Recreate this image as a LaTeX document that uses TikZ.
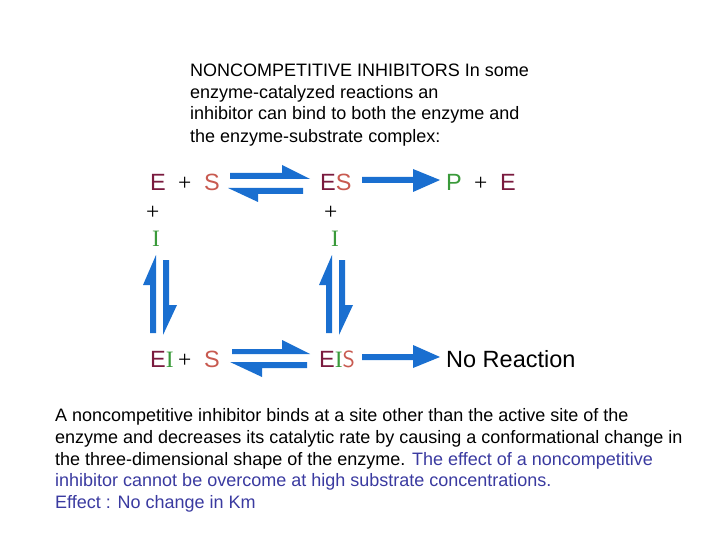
\documentclass[tikz,border=0pt]{standalone}
\usepackage{fontspec}
\setmainfont{Liberation Sans}
\newfontfamily\serf{Liberation Serif}
\definecolor{arr}{HTML}{1A6FD0}
\definecolor{cE}{HTML}{7A1A3E}
\definecolor{cS}{HTML}{C85A50}
\definecolor{cI}{HTML}{3A9A3A}
\definecolor{blu}{HTML}{3A3AA0}
\begin{document}
\begin{tikzpicture}[x=1pt,y=-1pt,
  sp/.style={anchor=base west,inner sep=0pt,font=\fontsize{23.5}{26}\selectfont},
  tx/.style={anchor=base west,inner sep=0pt,font=\fontsize{18}{20}\selectfont},
  bt/.style={anchor=base west,inner sep=0pt,font=\fontsize{18}{20}\selectfont},
  hp/.style={fill=arr}]
\useasboundingbox (0,0) rectangle (720,540);
% top text
\node[tx] (t1) at (190,77) {NONCOMPETITIVE INHIBITORS In some};
\node[tx] (t2) at (190,99) {enzyme-catalyzed reactions an};
\node[tx] (t3) at (190,120) {inhibitor can bind to both the enzyme and};
\node[tx] (t4) at (190,143) {the enzyme-substrate complex:};
% species
\node[sp] (e1) at (150,191) {\color{cE}E};
\node[sp] (p1) at (178,191) {\serf +};
\node[sp] (s1) at (204,191) {\color{cS}S};
\node[sp] (es) at (320,191) {\color{cE}E\color{cS}S};
\node[sp] (pp) at (446,191) {\color{cI}P};
\node[sp] (p2) at (474,191) {\serf +};
\node[sp] (e2) at (500,191) {\color{cE}E};
\node[sp] (p3) at (146,220) {\serf +};
\node[sp] (i1) at (152,246) {\serf\color{cI}I};
\node[sp] (p4) at (324,220) {\serf +};
\node[sp] (i2) at (331,246) {\serf\color{cI}I};
\node[sp] (ei) at (150,367) {\color{cE}E\serf\color{cI}I};
\node[sp] (p5) at (178,367) {\serf +};
\node[sp] (s2) at (204,367) {\color{cS}S};
\node[sp] (eis) at (319,367) {\color{cE}E\serf\color{cI}I\sffamily\color{cS}S};
\node[sp] (nr) at (446,367) {No Reaction};
% top harpoons
\fill[hp] (230,173)--(282,173)--(282,165)--(310,179)--(230,179)--cycle;
\fill[hp] (303,188)--(303,194)--(258,194)--(258,202)--(228,188)--cycle;
% bottom harpoons
\fill[hp] (232,349)--(282,349)--(282,340)--(310,354)--(232,354)--cycle;
\fill[hp] (307,362)--(307,368)--(262,368)--(262,377)--(230,362)--cycle;
% straight arrows
\fill[hp] (362,177)--(413,177)--(413,169)--(440,180)--(413,192)--(413,183)--(362,183)--cycle;
\fill[hp] (362,354)--(413,354)--(413,345)--(440,357)--(413,368)--(413,360)--(362,360)--cycle;
% vertical harpoons
\foreach \dx in {0,176}{
\fill[hp] ([xshift=\dx]150,333)--([xshift=\dx]150,285)--([xshift=\dx]143,285)--([xshift=\dx]156,255)--([xshift=\dx]156,333)--cycle;
\fill[hp] ([xshift=\dx]163,260)--([xshift=\dx]169,260)--([xshift=\dx]169,305)--([xshift=\dx]177,305)--([xshift=\dx]163,335)--cycle;
}
% bottom text
\node[bt] (b1) at (55,421) {A noncompetitive inhibitor binds at a site other than the active site of the};
\node[bt] (b2) at (55,443) {enzyme and decreases its catalytic rate by causing a conformational change in};
\node[bt] (b3) at (55,465) {the three-dimensional shape of the enzyme. \textcolor{blu}{The effect of a noncompetitive}};
\node[bt,text=blu] (b4) at (55,486) {inhibitor cannot be overcome at high substrate concentrations.};
\node[bt,text=blu] (b5) at (55,508) {Effect : No change in Km};
\end{tikzpicture}
\end{document}
